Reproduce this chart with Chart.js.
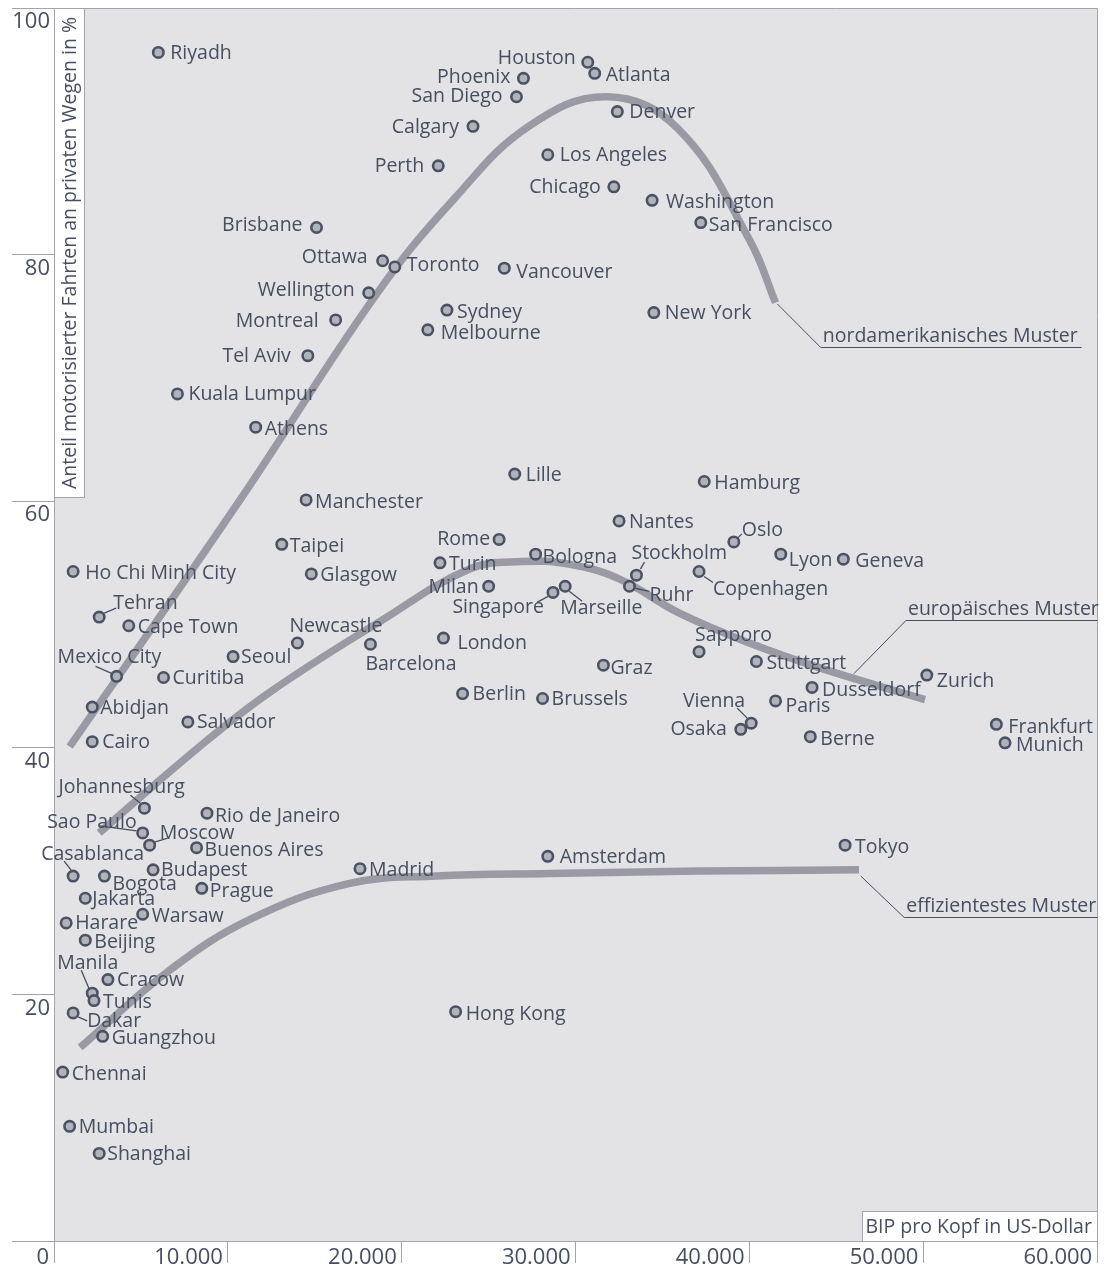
<!DOCTYPE html>
<html><head><meta charset="utf-8">
<script src="https://cdn.jsdelivr.net/npm/chart.js@4.4.1/dist/chart.umd.min.js"></script>
<style>html,body{margin:0;padding:0;background:#fff;}#wrap{width:1105px;height:1267px;position:relative;}</style>
</head><body><div id="wrap"><canvas id="c"></canvas></div>
<script>
// ---------- DATA ----------
const cities = ["Riyadh","Houston","Atlanta","Phoenix","San Diego","Denver","Calgary","Los Angeles","Perth","Chicago","Washington","San Francisco","Brisbane","Ottawa","Toronto","Vancouver","Wellington","Sydney","New York","Montreal","Melbourne","Tel Aviv","Kuala Lumpur","Athens","Lille","Hamburg","Manchester","Nantes","Oslo","Rome","Taipei","Bologna","Lyon","Geneva","Turin","Stockholm","Ho Chi Minh City","Glasgow","Copenhagen","Milan","Ruhr","Marseille","Singapore","Tehran","Cape Town","Newcastle","Barcelona","London","Sapporo","Seoul","Stuttgart","Graz","Mexico City","Curitiba","Zurich","Dusseldorf","Berlin","Brussels","Paris","Abidjan","Salvador","Vienna","Osaka","Frankfurt","Cairo","Berne","Munich","Johannesburg","Rio de Janeiro","Sao Paulo","Moscow","Tokyo","Buenos Aires","Amsterdam","Budapest","Madrid","Casablanca","Bogota","Prague","Jakarta","Warsaw","Harare","Beijing","Cracow","Manila","Tunis","Dakar","Hong Kong","Guangzhou","Chennai","Mumbai","Shanghai"];
const gdpPerCapita = [6000,30700,31100,27000,26600,32400,24100,28400,22100,32200,34400,37200,15100,18900,19600,25900,18100,22600,34500,16200,21500,14600,7100,11600,26500,37400,14500,32500,39100,25600,13100,27700,41800,45400,22200,33500,1100,14800,37100,25000,33100,29400,28700,2600,4300,14000,18200,22400,37100,10300,40400,31600,3600,6300,50200,43600,23500,28100,41500,2200,7700,40100,39500,54200,2200,43500,54700,5200,8800,5100,5500,45500,8200,28400,5700,17600,1100,2900,8500,1800,5100,700,1800,3100,2200,2300,1100,23100,2800,500,900,2600];
const carShare = [96.4,95.6,94.7,94.3,92.8,91.6,90.4,88.1,87.2,85.5,84.4,82.6,82.2,79.5,79.0,78.9,76.9,75.5,75.3,74.7,73.9,71.8,68.7,66.0,62.2,61.6,60.1,58.4,56.7,56.9,56.5,55.7,55.7,55.3,55.0,54.0,54.3,54.1,54.3,53.1,53.1,53.1,52.6,50.6,49.9,48.5,48.4,48.9,47.8,47.4,47.0,46.7,45.8,45.7,45.9,44.9,44.4,44.0,43.8,43.3,42.1,42.0,41.5,41.9,40.5,40.9,40.4,35.1,34.7,33.1,32.1,32.1,31.9,31.2,30.1,30.2,29.6,29.6,28.6,27.8,26.5,25.8,24.4,21.2,20.1,19.5,18.5,18.6,16.6,13.7,9.3,7.1];

// pattern curves
const naPatternX = [900,10700,18600,23000,27300,31800,35900,40000,41500];
const naPatternY = [40.1,60.1,76.9,84.5,90.4,92.8,90.2,81.2,76.1];
const euPatternX = [2600,8200,12400,18700,23900,26900,29600,32500,36000,40000,44000,50100];
const euPatternY = [33.1,39.9,44.5,50.2,54.5,55.1,54.9,53.7,50.9,48.5,46.5,43.9];
const effPatternX = [1500,6500,11300,17000,22000,28500,37100,46300];
const effPatternY = [15.7,21.8,26.1,29.0,29.6,29.8,30.0,30.1];

const patternNames = ["nordamerikanisches Muster","europäisches Muster","effizientestes Muster"];
const noteStartX = [41600,46000,46400], noteStartY = [76.0,46.0,29.6];
const noteCornerX = [44100,49000,48900], noteCornerY = [72.5,50.4,26.3];
const noteEndX = [59100,60000,60000];

const xTickValues = [0,10000,20000,30000,40000,50000,60000];
const yTickValues = [0,20,40,60,80,100];
const xAxisTitle = "BIP pro Kopf in US-Dollar";
const yAxisTitle = "Anteil motorisierter Fahrten an privaten Wegen in %";

// ---------- LAYOUT (label placement, px relative to marker) ----------
const labelLayout = {
 "Riyadh":[12,0],"Houston":[-12,-5,"right"],"Atlanta":[11,1],"Phoenix":[-13,-2,"right"],"San Diego":[-14,-1,"right"],
 "Denver":[12,0],"Calgary":[-14,0,"right"],"Los Angeles":[12,0],"Perth":[-14,0,"right"],"Chicago":[-13,0,"right"],
 "Washington":[14,1],"San Francisco":[8,2],"Brisbane":[-14,-3,"right"],"Ottawa":[-15,-4,"right"],"Toronto":[12,-2],
 "Vancouver":[12,3],"Wellington":[-14,-3,"right"],"Sydney":[10,1],"New York":[11,0],"Montreal":[-17,0,"right"],
 "Melbourne":[13,3],"Tel Aviv":[-17,0,"right"],"Kuala Lumpur":[11,0],"Athens":[9,1],"Lille":[11,0],"Hamburg":[10,1],
 "Manchester":[9,1],"Nantes":[10,1],"Oslo":[8,-12,"left",[4,-4,8,-8]],"Rome":[-9,-1,"right"],"Taipei":[8,1],
 "Bologna":[7,2],"Lyon":[8,5],"Geneva":[12,1],"Turin":[9,1],"Stockholm":[-5,-23,"left",[4,-6,8,-13]],
 "Ho Chi Minh City":[12,1],"Glasgow":[9,0],"Copenhagen":[14,17,"left",[5,5,14,11]],"Milan":[-10,0,"right"],
 "Ruhr":[20,8,"left",[6,2,20,5]],"Marseille":[-5,21,"left",[4,5,17,15]],"Singapore":[-9,14,"right",[-5,4,-16,10]],
 "Tehran":[14,-15,"left",[5,-4,17,-9]],"Cape Town":[9,1],"Newcastle":[-8,-18,"left"],"Barcelona":[-5,19,"left"],
 "London":[14,4],"Sapporo":[-4,-17,"left"],"Seoul":[8,0],"Stuttgart":[10,1],"Graz":[7,2],
 "Mexico City":[-59,-20,"left",[-5,-3,-21,-10]],"Curitiba":[9,0],"Zurich":[10,5],"Dusseldorf":[10,2],"Berlin":[10,0],
 "Brussels":[9,0],"Paris":[10,4],"Abidjan":[8,0],"Salvador":[9,0],"Vienna":[-6,-23,"right",[-4,-5,-14,-15]],
 "Osaka":[-14,-1,"right"],"Frankfurt":[12,2],"Cairo":[10,0],"Berne":[10,2],"Munich":[11,2],
 "Johannesburg":[-86,-22,"left",[-4,-5,-14,-13]],"Rio de Janeiro":[8,2],"Sao Paulo":[-6,-11,"right",[-6,-2,-43,-7]],
 "Moscow":[10,-13,"left",[5,-3,18,-7]],"Tokyo":[10,1],"Buenos Aires":[8,2],"Amsterdam":[12,0],"Budapest":[8,0],
 "Madrid":[9,1],"Casablanca":[-32,-23,"left",[-2,-6,-9,-15]],"Bogota":[8,7],"Prague":[8,2],"Jakarta":[7,0],
 "Warsaw":[9,1],"Harare":[9,0],"Beijing":[9,1],"Cracow":[9,0],"Manila":[-35,-31,"left",[-3,-4,-11,-23]],
 "Tunis":[9,1],"Dakar":[14,8,"left",[5,4,14,8]],"Hong Kong":[10,2],"Guangzhou":[9,1],"Chennai":[9,1],"Mumbai":[9,0],"Shanghai":[8,0]
};

const TEXT = "#464e5f", GRID = "#a3a3ab", PLOT_BG = "#e3e3e6", CURVE = "#9a9aa4";
const FONT = '"Open Sans", "Noto Sans", sans-serif';
const LABEL_FONT = "19.5px " + FONT;
const fmt = v => String(v).replace(/\B(?=(\d{3})+(?!\d))/g, ".");

function curve(xs, ys){ return xs.map((x,i)=>({x:x, y:ys[i]})); }

const plotPlugin = {
  id: "plotDecor",
  beforeDraw(chart){
    const {ctx, chartArea:a} = chart;
    ctx.save();
    ctx.fillStyle = PLOT_BG;
    ctx.fillRect(a.left, a.top, a.right-a.left, a.bottom-a.top);
    ctx.strokeStyle = GRID; ctx.lineWidth = 1;
    ctx.beginPath();
    ctx.moveTo(a.left, Math.round(a.top)+0.5); ctx.lineTo(Math.round(a.right)+0.5, Math.round(a.top)+0.5);
    ctx.lineTo(Math.round(a.right)+0.5, a.bottom);
    ctx.stroke();
    // y title box
    const bx = a.left+0.5, by = Math.round(a.top)+0.5, bw = 30, bh = 489;
    ctx.fillStyle = "#fff"; ctx.fillRect(bx, by, bw, bh);
    ctx.strokeRect(bx, by, bw, bh);
    ctx.translate(bx + bw/2 + 1, by + bh/2);
    ctx.rotate(-Math.PI/2);
    ctx.fillStyle = TEXT; ctx.font = "19.5px " + FONT; ctx.textAlign = "center"; ctx.textBaseline = "middle";
    ctx.fillText(yAxisTitle, 0, 0);
    ctx.restore();
    // x title box
    ctx.save();
    const xw = 235, xh = 30, xx = Math.round(a.right)+0.5 - xw, xy = Math.round(a.bottom)+0.5 - xh;
    ctx.fillStyle = "#fff"; ctx.fillRect(xx, xy, xw, xh);
    ctx.strokeStyle = GRID; ctx.strokeRect(xx, xy, xw, xh);
    ctx.fillStyle = TEXT; ctx.font = "19.5px " + FONT; ctx.textAlign = "left"; ctx.textBaseline = "middle";
    ctx.fillText(xAxisTitle, xx + 3, xy + xh/2 + 1);
    ctx.restore();
  },
  afterDatasetsDraw(chart){
    const {ctx} = chart;
    const xs = chart.scales.x, ys = chart.scales.y;
    ctx.save();
    ctx.font = LABEL_FONT;
    ctx.strokeStyle = TEXT; ctx.fillStyle = TEXT;
    // pattern annotations
    patternNames.forEach((name,i)=>{
      const sx = xs.getPixelForValue(noteStartX[i]), sy = ys.getPixelForValue(noteStartY[i]);
      const cx = xs.getPixelForValue(noteCornerX[i]), cy = Math.round(ys.getPixelForValue(noteCornerY[i]))+0.5;
      const ex = xs.getPixelForValue(noteEndX[i]);
      ctx.lineWidth = 1;
      ctx.beginPath(); ctx.moveTo(sx, sy); ctx.lineTo(cx, cy); ctx.lineTo(ex, cy); ctx.stroke();
      ctx.textAlign = "left"; ctx.textBaseline = "alphabetic";
      ctx.fillText(name, cx + 2, cy - 6);
    });
    ctx.textBaseline = "middle";
    ctx.lineWidth = 1.3;
    cities.forEach((name,i)=>{
      const px = xs.getPixelForValue(gdpPerCapita[i]), py = ys.getPixelForValue(carShare[i]);
      const L = labelLayout[name] || [10,0];
      if (L[3]) {
        const l = L[3];
        ctx.beginPath(); ctx.moveTo(px+l[0], py+l[1]); ctx.lineTo(px+l[2], py+l[3]); ctx.stroke();
      }
      ctx.textAlign = L[2] || "left";
      ctx.fillText(name, px + L[0], py + L[1] + 1);
    });
    ctx.restore();
  }
};

function build(){
  const ctx = document.getElementById("c").getContext("2d");
  const lineDs = (xs, ys) => ({type:"line", data: curve(xs, ys), borderColor: CURVE, borderWidth: 7.5,
     pointRadius: 0, fill: false, tension: 0.4, borderCapStyle: "butt", borderJoinStyle: "round", order: 2});
  new Chart(ctx, {
    data: { datasets: [
      {type:"scatter", data: cities.map((c,i)=>({x:gdpPerCapita[i], y:carShare[i]})),
       pointRadius: 5.2, pointHoverRadius: 5.2, backgroundColor: "#b2b2ba", borderColor: "#4a5263", borderWidth: 2.6, order: 0},
      lineDs(naPatternX, naPatternY),
      lineDs(euPatternX, euPatternY),
      lineDs(effPatternX, effPatternY)
    ]},
    options: {
      responsive: true, maintainAspectRatio: false, animation: false, devicePixelRatio: 1, events: [],
      layout: { padding: { left: 12, right: 6, top: 8, bottom: 0 } },
      plugins: { legend: {display:false}, tooltip: {enabled:false} },
      scales: {
        x: { type: "linear", position: "bottom", min: 0, max: 60000,
          afterBuildTicks: s => { s.ticks = xTickValues.map(v=>({value:v})); },
          afterFit: s => { s.height = 26; s.paddingLeft = 0; s.paddingRight = 0; },
          grid: { drawOnChartArea: false, tickLength: 22, color: GRID, lineWidth: 1 },
          border: { display: true, color: GRID, width: 1 },
          ticks: { align: "end", labelOffset: -5, padding: -16, maxRotation: 0, autoSkip: false, color: TEXT,
                   font: { family: FONT, size: 22, lineHeight: 1 }, callback: v => fmt(v) } },
        y: { type: "linear", position: "left", min: 0, max: 100,
          afterBuildTicks: s => { s.ticks = yTickValues.map(v=>({value:v})); },
          afterFit: s => { s.width = 42; s.paddingTop = 0; s.paddingBottom = 0; },
          grid: { drawOnChartArea: false, tickLength: 42, color: GRID, lineWidth: 1 },
          border: { display: true, color: GRID, width: 1 },
          ticks: { labelOffset: 14, padding: -38, autoSkip: false, color: TEXT,
                   font: { family: FONT, size: 22, lineHeight: 1 }, callback: v => v === 0 ? "" : String(v) } }
      }
    },
    plugins: [plotPlugin]
  });
}
if (document.fonts && document.fonts.load) {
  Promise.all([document.fonts.load('19px "Open Sans"'), document.fonts.load('22px "Open Sans"')]).then(build, build);
} else build();
</script>
</body></html>
